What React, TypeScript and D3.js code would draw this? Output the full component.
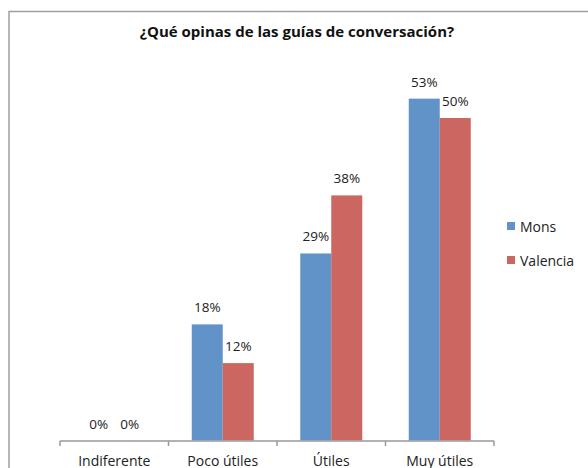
import React from 'react';
import { scaleBand, scaleLinear } from 'd3';

const categories = ['Indiferente', 'Poco útiles', 'Útiles', 'Muy útiles'];
const seriesNames = ['Mons', 'Valencia'];
const mons = [0, 0.18, 0.29, 0.53];
const valencia = [0, 0.12, 0.38, 0.5];
const colors = ['#6193C9', '#CC6660'];

const W = 588;
const H = 468;

export default function App() {
  const values = [mons, valencia];
  const x0 = scaleBand<string>().domain(categories).range([60, 494]);
  const x1 = scaleBand<string>()
    .domain(seriesNames)
    .range([0, x0.bandwidth()])
    .paddingOuter(0.75);
  const y = scaleLinear().domain([0, 0.6]).range([440.5, 53.5]);
  const baseY = 441;
  const font = "'Open Sans', sans-serif";

  return (
    <svg
      width={W}
      height={H}
      style={{ position: 'absolute', left: 0, top: 0, background: '#fff' }}
      fontFamily={font}
    >
      <rect x={9} y={11.5} width={W + 10} height={H + 10} fill="#fff" stroke="#a0a0a0" strokeWidth={1.5} />
      <text x={297} y={37} textAnchor="middle" fontWeight="bold" fontSize={15} fill="#111">
        ¿Qué opinas de las guías de conversación?
      </text>

      {categories.map((c, i) => (
        <g key={c} transform={`translate(${x0(c)},0)`}>
          {seriesNames.map((s, j) => {
            const v = values[j][i];
            const bx = x1(s)!;
            return (
              <g key={s}>
                <rect
                  x={bx}
                  y={y(v)}
                  width={x1.bandwidth()}
                  height={y(0) - y(v)}
                  fill={colors[j]}
                />
                <text
                  x={bx + x1.bandwidth() / 2}
                  y={y(v) - 12}
                  textAnchor="middle"
                  fontSize={13.5}
                  fill="#222"
                >
                  {Math.round(v * 100)}%
                </text>
              </g>
            );
          })}
          <text x={x0.bandwidth() / 2} y={466} textAnchor="middle" fontSize={14} fill="#222">
            {c}
          </text>
        </g>
      ))}

      <line x1={60} x2={494} y1={baseY} y2={baseY} stroke="#999" strokeWidth={1.5} />
      {[...categories.map((c) => x0(c)!), 494].map((t, i) => (
        <line key={i} x1={t} x2={t} y1={baseY} y2={baseY + 5} stroke="#999" strokeWidth={1.5} />
      ))}

      {seriesNames.map((s, j) => (
        <g key={s} transform={`translate(507,${222 + j * 34})`}>
          <rect x={0} y={0} width={8} height={8} fill={colors[j]} />
          <text x={13} y={10} fontSize={14} fill="#222">
            {s}
          </text>
        </g>
      ))}
    </svg>
  );
}
